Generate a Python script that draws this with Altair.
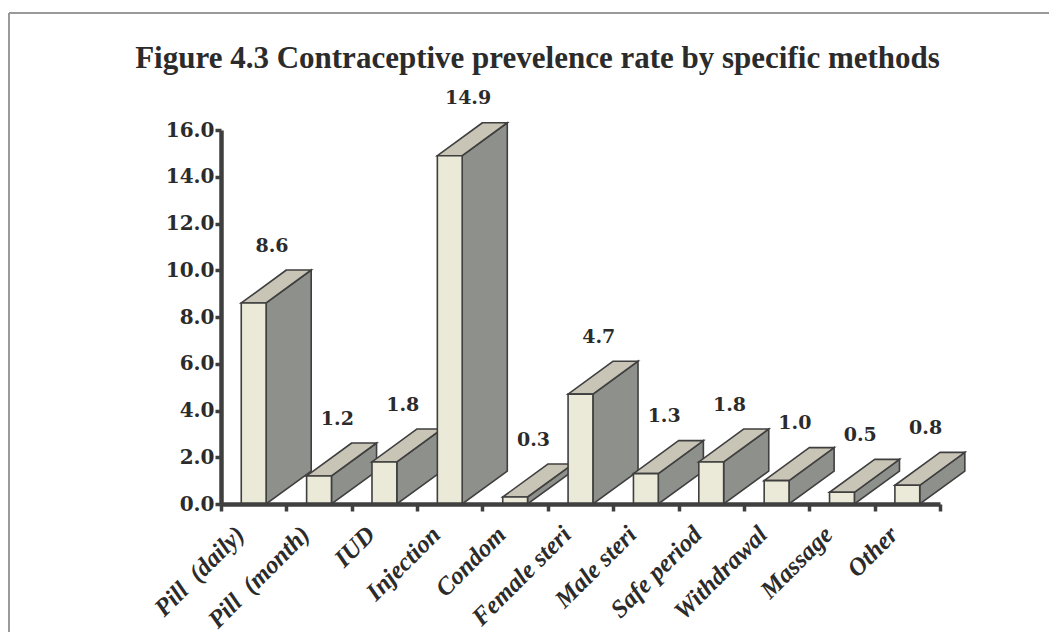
import json
import altair as alt
import pandas as pd

# ---------------- data ----------------
categories = ["Pill\u00a0\u00a0(daily)", "Pill\u00a0\u00a0(month)", "IUD", "Injection", "Condom",
              "Female steri", "Male steri", "Safe period", "Withdrawal",
              "Massage", "Other"]
values = [8.6, 1.2, 1.8, 14.9, 0.3, 4.7, 1.3, 1.8, 1.0, 0.5, 0.8]
y_ticks = [0, 2, 4, 6, 8, 10, 12, 14, 16]
title_text = "Figure 4.3 Contraceptive prevelence rate by specific methods"

# ---------------- geometry of the pseudo-3D bars (style constants) ----------------
HALF = 0.19      # half width of front face (category units)
DX = 0.69        # depth offset along x (category units)
DY = 1.41        # depth offset along y (value units)
LABEL_DX = 0.28
LABEL_DY = 2.45

n = len(categories)
idx = list(range(n))

front = pd.DataFrame({"i": idx, "name": categories, "v": values})
front["x0"] = front["i"] - HALF
front["x1"] = front["i"] + HALF
front["zero"] = 0.0
front["lx"] = front["i"] + LABEL_DX
front["ly"] = front["v"] + LABEL_DY
front["lab"] = [f"{v:.1f}" for v in values]

side_rows = []
top_rows = []
for i, v in zip(idx, values):
    side_rows.append({"i": i, "xs": i + HALF, "yt": v, "yb": 0.0})
    side_rows.append({"i": i, "xs": i + HALF + DX, "yt": v + DY, "yb": DY})
    top_rows.append({"i": i, "yy": v, "xl": i - HALF, "xr": i + HALF})
    top_rows.append({"i": i, "yy": v + DY, "xl": i - HALF + DX, "xr": i + HALF + DX})
side = pd.DataFrame(side_rows)
top = pd.DataFrame(top_rows)

# ---------------- styling ----------------
FRONT = "#ebe9d7"
TOPC = "#c9c5b6"
SIDEC = "#8d908b"
EDGE = "#3f3f3f"
TXT = "#2b2b2b"

xscale = alt.Scale(domain=[-0.5, n - 0.5], nice=False, zero=False)
yscale = alt.Scale(domain=[0, 16], nice=False, zero=False)

half_ticks = [k - 0.5 for k in range(n + 1)]
centers = list(range(n))
x_axis_values = sorted(half_ticks + centers)

label_expr = ("datum.value % 1 === 0 ? " + json.dumps(categories) +
              "[round(datum.value)] : ''")

x_axis = alt.Axis(
    values=x_axis_values, title=None, grid=False,
    labelExpr=label_expr, labelOverlap=False, labelAngle=315,
    labelFont="Liberation Serif", labelFontSize=25, labelFontWeight="bold",
    labelFontStyle="italic", labelColor=TXT, labelPadding=19, labelOffset=-14,
    labelAlign="right", labelBaseline="middle",
    tickSize=7, tickWidth=3.5, tickColor=EDGE,
    tickOpacity={"condition": {"test": "datum.value % 1 !== 0", "value": 1}, "value": 0},
    domainColor=EDGE, domainWidth=4.5, zindex=2,
)
y_axis = alt.Axis(
    values=y_ticks, format=".1f", title=None, grid=False,
    labelFont="DejaVu Serif", labelFontSize=20, labelFontWeight="bold",
    labelColor=TXT, labelPadding=1,
    tickSize=6, tickWidth=3.5, tickColor=EDGE,
    domainColor=EDGE, domainWidth=4.5, zindex=2,
)

sides = alt.Chart(side).mark_area(
    orient="vertical", color=SIDEC, stroke=EDGE, strokeWidth=1.6, opacity=1
).encode(
    x=alt.X("xs:Q", scale=xscale, axis=x_axis),
    y=alt.Y("yt:Q", scale=yscale, axis=y_axis),
    y2="yb:Q",
    detail="i:N",
)

tops = alt.Chart(top).mark_area(
    orient="horizontal", color=TOPC, stroke=EDGE, strokeWidth=1.6, opacity=1
).encode(
    y=alt.Y("yy:Q", scale=yscale, axis=y_axis),
    x=alt.X("xl:Q", scale=xscale, axis=x_axis),
    x2="xr:Q",
    detail="i:N",
)

fronts = alt.Chart(front).mark_rect(
    color=FRONT, stroke=EDGE, strokeWidth=1.6
).encode(
    x=alt.X("x0:Q", scale=xscale, axis=x_axis),
    x2="x1:Q",
    y=alt.Y("zero:Q", scale=yscale, axis=y_axis),
    y2="v:Q",
)

labels = alt.Chart(front).mark_text(
    font="DejaVu Serif", fontSize=19, fontWeight="bold", color=TXT,
    align="center", baseline="middle"
).encode(
    x=alt.X("lx:Q", scale=xscale, axis=x_axis),
    y=alt.Y("ly:Q", scale=yscale, axis=y_axis),
    text="lab:N",
)

frame_left = alt.Chart(front).mark_rule(color="#9a9a9a", strokeWidth=2).encode(
    x=alt.value(-212), y=alt.value(-117), y2=alt.value(512)
)
frame_top = alt.Chart(front).mark_rule(color="#9a9a9a", strokeWidth=2).encode(
    x=alt.value(-212), x2=alt.value(840), y=alt.value(-117)
)

chart = alt.layer(sides, tops, fronts, labels, frame_left, frame_top).properties(
    width=719, height=374,
    autosize=alt.AutoSizeParams(type="none"),
    padding={"left": 213, "top": 122, "right": 109, "bottom": 128},
    background="white",
    title=alt.TitleParams(
        text=title_text, font="Liberation Serif", fontSize=31,
        fontWeight="bold", color=TXT, anchor="middle", dx=-43, offset=-63,
    ),
).configure_view(strokeOpacity=0)

chart.save("out.html", embed_options={"renderer": "svg", "actions": False})
